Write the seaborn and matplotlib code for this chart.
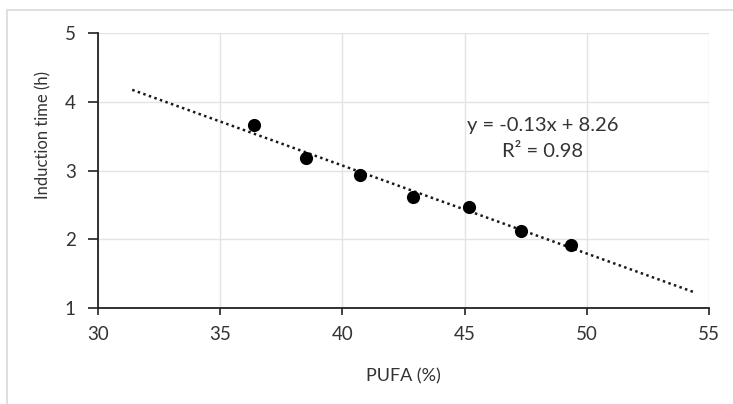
import numpy as np
import pandas as pd
import matplotlib
matplotlib.use("Agg")
import matplotlib.pyplot as plt
import seaborn as sns
from matplotlib.patches import Rectangle

pufa = [36.4, 38.5, 40.7, 42.9, 45.2, 47.3, 49.35]
induction = [3.66, 3.18, 2.94, 2.61, 2.47, 2.12, 1.92]
x_ticks = [30, 35, 40, 45, 50, 55]
y_ticks = [1, 2, 3, 4, 5]
equation_label = "y = -0.13x + 8.26"
r2_label = "R² = 0.98"
forecast = 5.0

sns.set_theme(style="white")
plt.rcParams['font.family'] = ['Lato', 'DejaVu Sans']

fig = plt.figure(figsize=(7.33, 4.04), dpi=100)
ax = fig.add_axes([98/733, 1-308/404, (709-98)/733, (308-33)/404])

df = pd.DataFrame({"PUFA": pufa, "Induction": induction})
slope, intercept = np.polyfit(df["PUFA"], df["Induction"], 1)
xt = np.array([df["PUFA"].min() - forecast, df["PUFA"].max() + forecast])
trend = pd.DataFrame({"x": xt, "y": slope * xt + intercept})

sns.lineplot(data=trend, x="x", y="y", ax=ax, color="#1a1a1a", linestyle=(0, (1, 1.35)),
             linewidth=1.8, zorder=3)
sns.scatterplot(data=df, x="PUFA", y="Induction", ax=ax, color="black", s=90,
                edgecolor="black", linewidth=0, zorder=4)

ax.set_xlim(30, 55)
ax.set_ylim(1, 5)
ax.set_xticks(x_ticks)
ax.set_yticks(y_ticks)
ax.grid(True, color="#e3e3e3", linewidth=1.0)
ax.set_axisbelow(True)
for s in ["top", "right"]:
    ax.spines[s].set_visible(False)
for s in ["left", "bottom"]:
    ax.spines[s].set_color("#222222")
    ax.spines[s].set_linewidth(1.3)
ax.tick_params(axis="x", which="major", direction="out", length=5, width=1.2,
               color="#222222", labelsize=13.5, labelcolor="#333333", pad=8, bottom=True)
ax.tick_params(axis="y", which="major", direction="out", length=7, width=1.2,
               color="#222222", labelsize=13.5, labelcolor="#333333", pad=9, left=True)
ax.set_xlabel("PUFA (%)", fontsize=13, color="#333333", labelpad=18)
ax.set_ylabel("Induction time (h)", fontsize=12, color="#333333")
ax.yaxis.set_label_coords(-0.077, 0.63)

ax.text(48.2, 3.66, equation_label, ha="center", va="center",
        fontsize=14.5, color="#333333")
ax.text(48.2, 3.27, r2_label, ha="center", va="center",
        fontsize=14.5, color="#333333")

fig.patches.append(Rectangle((7/733, -0.1), 1.0, 1 - 10/404 + 0.1, transform=fig.transFigure,
                             fill=False, edgecolor="#d9d9d9", linewidth=1.2))

fig.savefig("out.png", dpi=100)
